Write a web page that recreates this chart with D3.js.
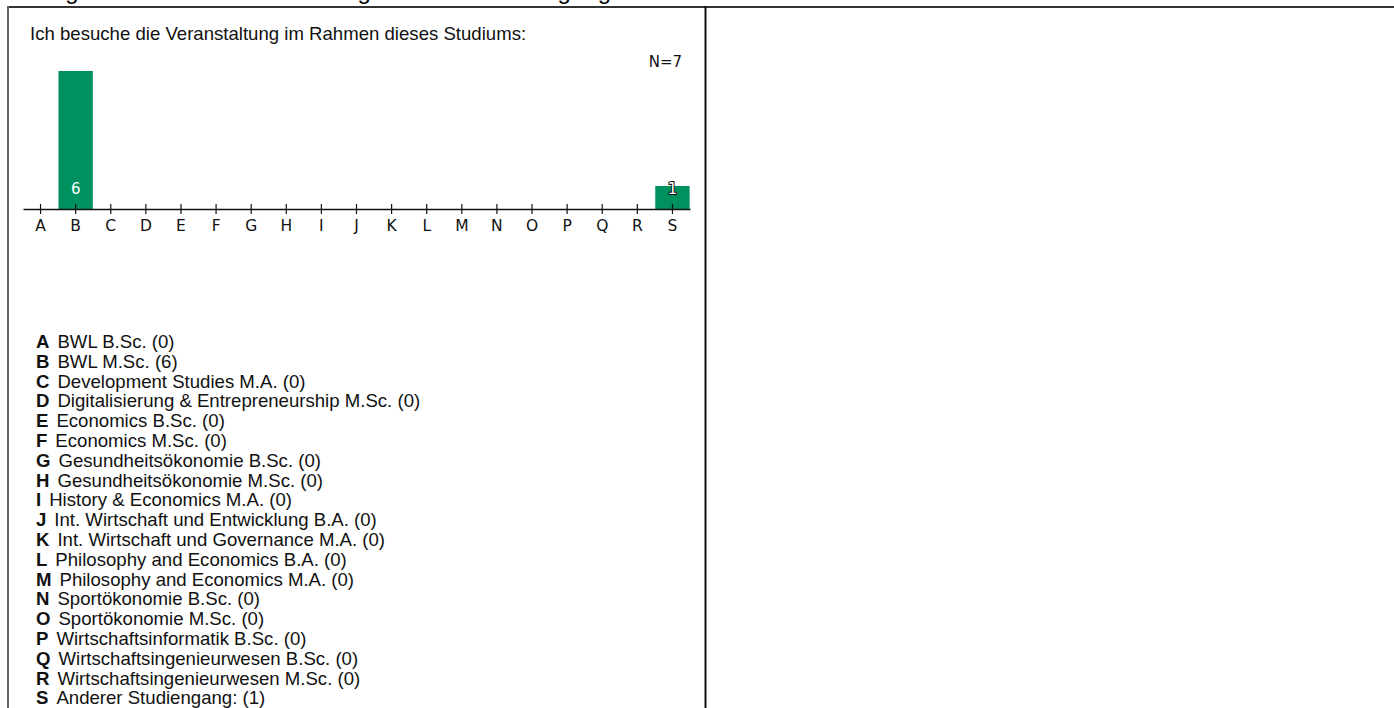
<!DOCTYPE html>
<html>
<head>
<meta charset="utf-8">
<script src="https://cdn.jsdelivr.net/npm/d3@7"></script>
<style>
  body { margin: 0; background: #fff; }
  svg { display: block; }
</style>
</head>
<body>
<div id="chart"></div>
<script>
// data
var letters = ["A","B","C","D","E","F","G","H","I","J","K","L","M","N","O","P","Q","R","S"];
var names = [
    "BWL B.Sc.",
    "BWL M.Sc.",
    "Development Studies M.A.",
    "Digitalisierung & Entrepreneurship M.Sc.",
    "Economics B.Sc.",
    "Economics M.Sc.",
    "Gesundheitsökonomie B.Sc.",
    "Gesundheitsökonomie M.Sc.",
    "History & Economics M.A.",
    "Int. Wirtschaft und Entwicklung B.A.",
    "Int. Wirtschaft und Governance M.A.",
    "Philosophy and Economics B.A.",
    "Philosophy and Economics M.A.",
    "Sportökonomie B.Sc.",
    "Sportökonomie M.Sc.",
    "Wirtschaftsinformatik B.Sc.",
    "Wirtschaftsingenieurwesen B.Sc.",
    "Wirtschaftsingenieurwesen M.Sc.",
    "Anderer Studiengang:"
];
var counts = [0,6,0,0,0,0,0,0,0,0,0,0,0,0,0,0,0,0,1];
var question = "Ich besuche die Veranstaltung im Rahmen dieses Studiums:";
var heading = "Allgemeine Angaben zur Lehrveranstaltung und zum Studiengang";

var data = letters.map(function(l, i) {
    return { letter: l, name: names[i], count: counts[i] };
});
var total = d3.sum(counts);

var W = 1394, H = 708;
var green = "#00915f";

var svg = d3.select("#chart").append("svg")
    .attr("width", W)
    .attr("height", H);

// heading sits above the page, only its descenders show
svg.append("text")
    .attr("x", 611)
    .attr("y", -1.5)
    .attr("text-anchor", "end")
    .style("font-family", "Liberation Sans, Arial, sans-serif")
    .style("font-size", "24px")
    .text(heading);

// frame
svg.append("line")
    .attr("x1", 8).attr("x2", W).attr("y1", 7).attr("y2", 7)
    .attr("stroke", "#333").attr("stroke-width", 2);
svg.append("line")
    .attr("x1", 8).attr("x2", 8).attr("y1", 6).attr("y2", H)
    .attr("stroke", "#666").attr("stroke-width", 2);
svg.append("line")
    .attr("x1", 705.5).attr("x2", 705.5).attr("y1", 6).attr("y2", H)
    .attr("stroke", "#111").attr("stroke-width", 2);

svg.append("text")
    .attr("x", 30)
    .attr("y", 40)
    .style("font-family", "Liberation Sans, Arial, sans-serif")
    .style("font-size", "18.6px")
    .attr("fill", "#111")
    .text(question);

svg.append("text")
    .attr("x", 682)
    .attr("y", 67)
    .attr("text-anchor", "end")
    .style("font-family", "DejaVu Sans, sans-serif")
    .style("font-size", "15px")
    .attr("fill", "#111")
    .text("N=" + total);

// scales
var x = d3.scaleBand()
    .domain(letters)
    .range([23, 690])
    .paddingInner(0.02)
    .paddingOuter(0.01);
var y = d3.scaleLinear()
    .domain([0, d3.max(counts)])
    .range([209, 71]);

// bars
svg.selectAll(".bar")
    .data(data.filter(function(d) { return d.count > 0; }))
    .enter().append("rect")
    .attr("class", "bar")
    .attr("x", function(d) { return x(d.letter); })
    .attr("width", x.bandwidth())
    .attr("y", function(d) { return y(d.count); })
    .attr("height", function(d) { return y(0) - y(d.count); })
    .attr("fill", green);

// axis
var gX = svg.append("g")
    .attr("transform", "translate(0," + y(0) + ")")
    .call(d3.axisBottom(x).tickSizeOuter(0).tickSizeInner(5));
gX.select(".domain").attr("stroke", "#111").attr("stroke-width", 1.4);
gX.selectAll(".tick line")
    .attr("y1", -5).attr("y2", 5)
    .attr("stroke", "#111").attr("stroke-width", 1.2);
gX.selectAll(".tick text")
    .attr("y", 22).attr("dy", 0)
    .style("font-family", "DejaVu Sans, sans-serif")
    .style("font-size", "15.5px")
    .attr("fill", "#111");

// value labels (white, outlined when the bar is short)
svg.selectAll(".val")
    .data(data.filter(function(d) { return d.count > 0; }))
    .enter().append("text")
    .attr("class", "val")
    .attr("x", function(d) { return x(d.letter) + x.bandwidth() / 2; })
    .attr("y", function(d) { return y(0) - 15; })
    .attr("text-anchor", "middle")
    .style("font-family", "DejaVu Sans, sans-serif")
    .style("font-size", "15px")
    .attr("fill", "#fff")
    .attr("stroke", function(d) { return (y(0) - y(d.count)) < 30 ? "#111" : "none"; })
    .attr("stroke-width", 2)
    .attr("paint-order", "stroke")
    .text(function(d) { return d.count; });

// legend
var legend = svg.append("g")
    .style("font-family", "Liberation Sans, Arial, sans-serif")
    .style("font-size", "18.6px")
    .attr("fill", "#111");
var rows = legend.selectAll("text")
    .data(data)
    .enter().append("text")
    .attr("x", 36)
    .attr("y", function(d, i) { return 348 + i * 19.8; });
rows.append("tspan")
    .style("font-weight", "bold")
    .text(function(d) { return d.letter; });
rows.append("tspan")
    .attr("dx", 8)
    .text(function(d) { return d.name + " (" + d.count + ")"; });
</script>
</body>
</html>
